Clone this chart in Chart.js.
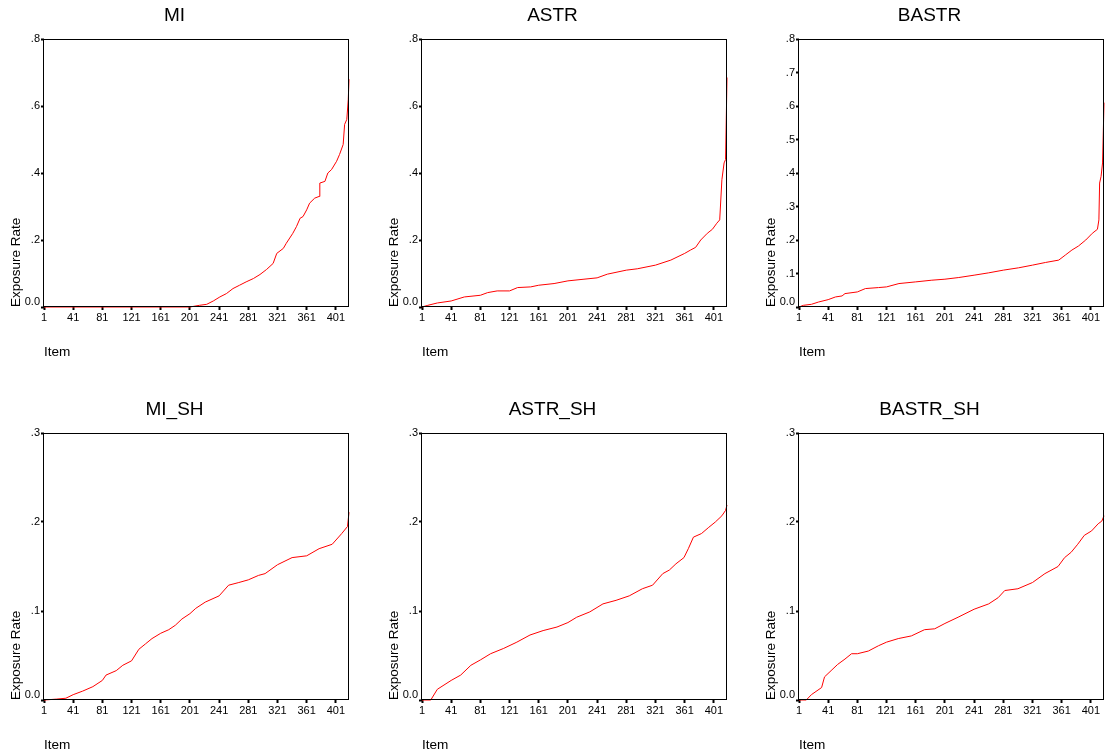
<!DOCTYPE html>
<html>
<head>
<meta charset="utf-8">
<script src="https://cdn.jsdelivr.net/npm/chart.js@4/dist/chart.umd.min.js"></script>
<style>
  html, body { margin: 0; padding: 0; background: #ffffff; }
  body { width: 1105px; height: 755px; position: relative; overflow: hidden; }
  canvas { position: absolute; }
</style>
</head>
<body>
<canvas id="c1"></canvas>
<canvas id="c2"></canvas>
<canvas id="c3"></canvas>
<canvas id="c4"></canvas>
<canvas id="c5"></canvas>
<canvas id="c6"></canvas>
<script>
// ---------- data ----------
const xTickLabels = [1, 41, 81, 121, 161, 201, 241, 281, 321, 361, 401];
const itemCount = 419;

const miItems = [1, 201, 214, 224, 233, 242, 251, 260, 269, 278, 288, 297, 306, 315, 320, 329, 333, 342, 347, 352, 356, 361, 365, 372, 378, 379, 386, 390, 395, 402, 406, 411, 413, 416, 418, 419];
const miRate  = [0, 0, 0.005, 0.008, 0.018, 0.03, 0.04, 0.055, 0.065, 0.075, 0.085, 0.097, 0.112, 0.13, 0.16, 0.175, 0.19, 0.22, 0.24, 0.265, 0.27, 0.29, 0.31, 0.325, 0.33, 0.37, 0.375, 0.40, 0.41, 0.435, 0.455, 0.485, 0.545, 0.56, 0.62, 0.68];

const astrItems = [1, 9, 22, 41, 59, 81, 91, 104, 121, 132, 150, 161, 182, 201, 223, 241, 255, 281, 296, 321, 342, 361, 369, 376, 383, 392, 399, 405, 409, 412, 415, 417, 419];
const astrRate  = [0, 0.005, 0.012, 0.018, 0.03, 0.035, 0.043, 0.048, 0.048, 0.058, 0.06, 0.065, 0.07, 0.078, 0.083, 0.087, 0.098, 0.11, 0.114, 0.125, 0.14, 0.16, 0.17, 0.178, 0.20, 0.22, 0.232, 0.25, 0.26, 0.38, 0.43, 0.44, 0.685];

const bastrItems = [1, 7, 18, 28, 41, 51, 60, 64, 81, 92, 110, 121, 138, 161, 183, 201, 220, 241, 261, 281, 302, 321, 339, 357, 366, 375, 384, 394, 403, 410, 412, 413, 415, 417, 419];
const bastrRate  = [0, 0.005, 0.008, 0.015, 0.022, 0.03, 0.033, 0.04, 0.045, 0.055, 0.058, 0.06, 0.07, 0.075, 0.08, 0.083, 0.088, 0.095, 0.102, 0.11, 0.117, 0.125, 0.133, 0.14, 0.155, 0.17, 0.182, 0.20, 0.22, 0.232, 0.26, 0.37, 0.39, 0.43, 0.61];

const miShItems = [1, 18, 31, 41, 54, 68, 81, 86, 100, 109, 121, 131, 140, 149, 161, 172, 181, 190, 201, 209, 222, 241, 254, 268, 281, 295, 304, 321, 341, 361, 378, 396, 409, 417, 419];
const miShRate  = [0, 0.001, 0.002, 0.006, 0.01, 0.015, 0.022, 0.028, 0.033, 0.039, 0.044, 0.057, 0.063, 0.069, 0.075, 0.079, 0.084, 0.091, 0.097, 0.103, 0.11, 0.117, 0.129, 0.132, 0.135, 0.14, 0.142, 0.152, 0.16, 0.162, 0.17, 0.175, 0.187, 0.195, 0.211];

const astrShItems = [1, 13, 22, 41, 54, 68, 81, 95, 113, 131, 149, 167, 186, 201, 213, 231, 249, 267, 285, 303, 317, 331, 340, 349, 360, 366, 373, 384, 394, 403, 412, 417, 419];
const astrShRate  = [0, 0, 0.012, 0.022, 0.028, 0.039, 0.045, 0.052, 0.058, 0.065, 0.073, 0.078, 0.082, 0.087, 0.093, 0.099, 0.108, 0.112, 0.117, 0.125, 0.129, 0.142, 0.146, 0.153, 0.16, 0.17, 0.183, 0.187, 0.194, 0.2, 0.207, 0.213, 0.219];

const bastrShItems = [1, 11, 18, 32, 36, 45, 54, 64, 73, 81, 96, 110, 121, 137, 155, 173, 187, 201, 219, 241, 261, 274, 283, 301, 321, 338, 356, 365, 374, 383, 392, 402, 411, 416, 419];
const bastrShRate  = [0, 0, 0.006, 0.014, 0.026, 0.033, 0.04, 0.046, 0.052, 0.052, 0.055, 0.061, 0.065, 0.069, 0.072, 0.079, 0.08, 0.086, 0.093, 0.102, 0.108, 0.115, 0.123, 0.125, 0.132, 0.142, 0.15, 0.16, 0.166, 0.175, 0.185, 0.19, 0.198, 0.201, 0.207];

const topYTicks = [0, 0.2, 0.4, 0.6, 0.8];
const topYTicksFine = [0, 0.1, 0.2, 0.3, 0.4, 0.5, 0.6, 0.7, 0.8];
const bottomYTicks = [0, 0.1, 0.2, 0.3];

// ---------- layout ----------
const FONT = "'Liberation Sans', Arial, Helvetica, sans-serif";

const frame = {
  id: 'frame',
  afterDatasetsDraw(chart) {
    const a = chart.chartArea;
    const ctx = chart.ctx;
    ctx.save();
    ctx.strokeStyle = '#000000';
    ctx.lineWidth = 1;
    ctx.strokeRect(Math.round(a.left) - 0.5, Math.round(a.top) + 0.5,
                   Math.round(a.right - a.left), Math.round(a.bottom - a.top) - 1);
    ctx.restore();
  }
};

function fmtY(v) {
  if (Math.abs(v) < 1e-9) return ['0.0', ''];
  return v.toFixed(1).replace(/^0/, '');
}

function makePanel(id, title, items, rates, yMax, yTicks, left, top, height) {
  const el = document.getElementById(id);
  const w = 350;
  el.width = w; el.height = height;
  el.style.left = left + 'px'; el.style.top = top + 'px';
  el.style.width = w + 'px'; el.style.height = height + 'px';
  const pts = items.map((x, i) => ({ x: x, y: rates[i] }));
  new Chart(el, {
    type: 'line',
    data: { datasets: [{ data: pts, borderColor: '#ff0000', borderWidth: 1, pointRadius: 0, tension: 0, fill: false, clip: false }] },
    options: {
      responsive: false,
      animation: false,
      devicePixelRatio: 1,
      layout: { padding: { left: 0, right: 1, top: 0, bottom: 0 } },
      plugins: {
        legend: { display: false },
        tooltip: { enabled: false },
        title: {
          display: true, text: title, color: '#000000',
          font: { family: FONT, size: 19, weight: 'normal' },
          padding: { top: 4, bottom: 12.2 }
        }
      },
      scales: {
        x: {
          type: 'linear', min: 1, max: itemCount,
          afterBuildTicks: (s) => { s.ticks = xTickLabels.map(v => ({ value: v })); },
          afterFit: (s) => { s.height = 53; },
          ticks: { autoSkip: false, maxRotation: 0, color: '#000000', padding: 1,
                   font: { family: FONT, size: 11 }, callback: (v) => String(v) },
          grid: { display: true, drawOnChartArea: false, drawTicks: true, tickLength: 3, tickWidth: 2, tickColor: '#000000' },
          border: { display: false },
          title: { display: true, text: 'Item', align: 'start', color: '#000000',
                   font: { family: FONT, size: 13.6 }, padding: { top: 0, bottom: 0 } }
        },
        y: {
          type: 'linear', min: 0, max: yMax,
          afterBuildTicks: (s) => { s.ticks = yTicks.map(v => ({ value: v })); },
          afterFit: (s) => { s.width = 44; },
          ticks: { color: '#000000', padding: 1,
                   font: (ctx) => (ctx.tick && Math.abs(ctx.tick.value) < 1e-9)
                     ? { family: FONT, size: 11, lineHeight: 0.9 }
                     : { family: FONT, size: 11 },
                   callback: (v) => fmtY(v) },
          grid: { display: true, drawOnChartArea: false, drawTicks: true, tickLength: 3, tickWidth: 2, tickColor: '#000000' },
          border: { display: false },
          title: { display: true, text: 'Exposure Rate', align: 'start', color: '#000000',
                   font: { family: FONT, size: 13.5 }, padding: { top: 8, bottom: 0 } }
        }
      }
    },
    plugins: [frame]
  });
}

makePanel('c1', 'MI',       miItems,      miRate,      0.8, topYTicks,     0,   0,   360);
makePanel('c2', 'ASTR',     astrItems,    astrRate,    0.8, topYTicks,     378, 0,   360);
makePanel('c3', 'BASTR',    bastrItems,   bastrRate,   0.8, topYTicksFine, 755, 0,   360);
makePanel('c4', 'MI_SH',    miShItems,    miShRate,    0.3, bottomYTicks,  0,   394, 359);
makePanel('c5', 'ASTR_SH',  astrShItems,  astrShRate,  0.3, bottomYTicks,  378, 394, 359);
makePanel('c6', 'BASTR_SH', bastrShItems, bastrShRate, 0.3, bottomYTicks,  755, 394, 359);
</script>
</body>
</html>
